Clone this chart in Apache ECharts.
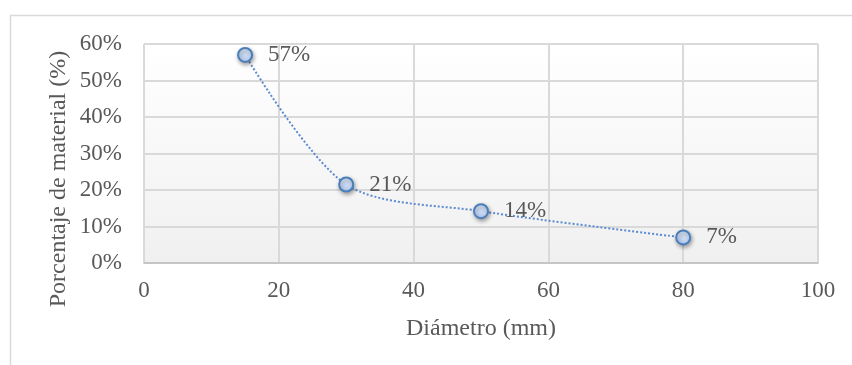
<!DOCTYPE html>
<html><head><meta charset="utf-8">
<script src="https://cdn.jsdelivr.net/npm/echarts@6/dist/echarts.min.js"></script>
<style>html,body{margin:0;padding:0;background:#fff}#c{width:852px;height:365px}</style>
</head><body><div id="c"></div>
<script>
const xValues = [15, 30, 50, 80];
const yValues = [0.57, 0.215, 0.142, 0.07];
const pointLabels = ['57%', '21%', '14%', '7%'];
const xTitle = 'Diámetro (mm)';
const yTitle = 'Porcentaje de material (%)';

const chart = echarts.init(document.getElementById('c'));
const font = '"Liberation Serif", "Times New Roman", serif';
chart.setOption({
  animation: false,
  graphic: [{
    type: 'rect', shape: {x: 10.5, y: 15.5, width: 900, height: 400},
    style: {fill: 'none', stroke: '#d9d9d9', lineWidth: 1.5}, z: -10
  }, {
    type: 'text', x: 59, y: 179, rotation: Math.PI / 2,
    style: {text: yTitle, fontFamily: font, fontSize: 24, fill: '#595959',
      textAlign: 'center', textVerticalAlign: 'middle'}
  }],
  grid: {left: 144, right: 34, top: 44, bottom: 102,
    show: true, borderWidth: 0,
    backgroundColor: new echarts.graphic.LinearGradient(0,0,0,1,[{offset:0,color:'#ffffff'},{offset:1,color:'#f0f0f0'}])},
  xAxis: {type: 'value', min: 0, max: 100, interval: 20,
    name: xTitle, nameLocation: 'middle', nameGap: 54,
    nameTextStyle: {fontFamily: font, fontSize: 24, color: '#595959'},
    axisLine: {show: true, lineStyle: {color: '#bfbfbf', width: 1.5}},
    axisTick: {show: false},
    axisLabel: {fontFamily: font, fontSize: 23, color: '#595959', margin: 16},
    splitLine: {show: true, lineStyle: {color: '#d9d9d9', width: 2}}},
  yAxis: {type: 'value', min: 0, max: 0.6, interval: 0.1,
    axisLine: {show: false}, axisTick: {show: false},
    axisLabel: {fontFamily: font, fontSize: 23, color: '#595959', margin: 22,
      formatter: v => Math.round(v*100) + '%'},
    splitLine: {show: true, lineStyle: {color: '#d9d9d9', width: 2}}},
  series: [{
    type: 'line', smooth: 0.3,
    data: xValues.map((x, i) => [x, yValues[i]]),
    symbol: 'circle', symbolSize: 14,
    lineStyle: {color: '#5b8bd0', width: 2, type: [2, 2]},
    itemStyle: {
      color: new echarts.graphic.LinearGradient(0,0,0,1,[{offset:0,color:'#e3edfc'},{offset:1,color:'#b3cbf2'}]),
      borderColor: '#4a7ebb', borderWidth: 2,
      shadowColor: 'rgba(0,0,0,0.35)', shadowBlur: 4, shadowOffsetX: 1, shadowOffsetY: 2},
    label: {show: true, position: 'right', distance: 15,
      fontFamily: font, fontSize: 23, color: '#595959',
      formatter: p => pointLabels[p.dataIndex]}
  }]
});
</script></body></html>
